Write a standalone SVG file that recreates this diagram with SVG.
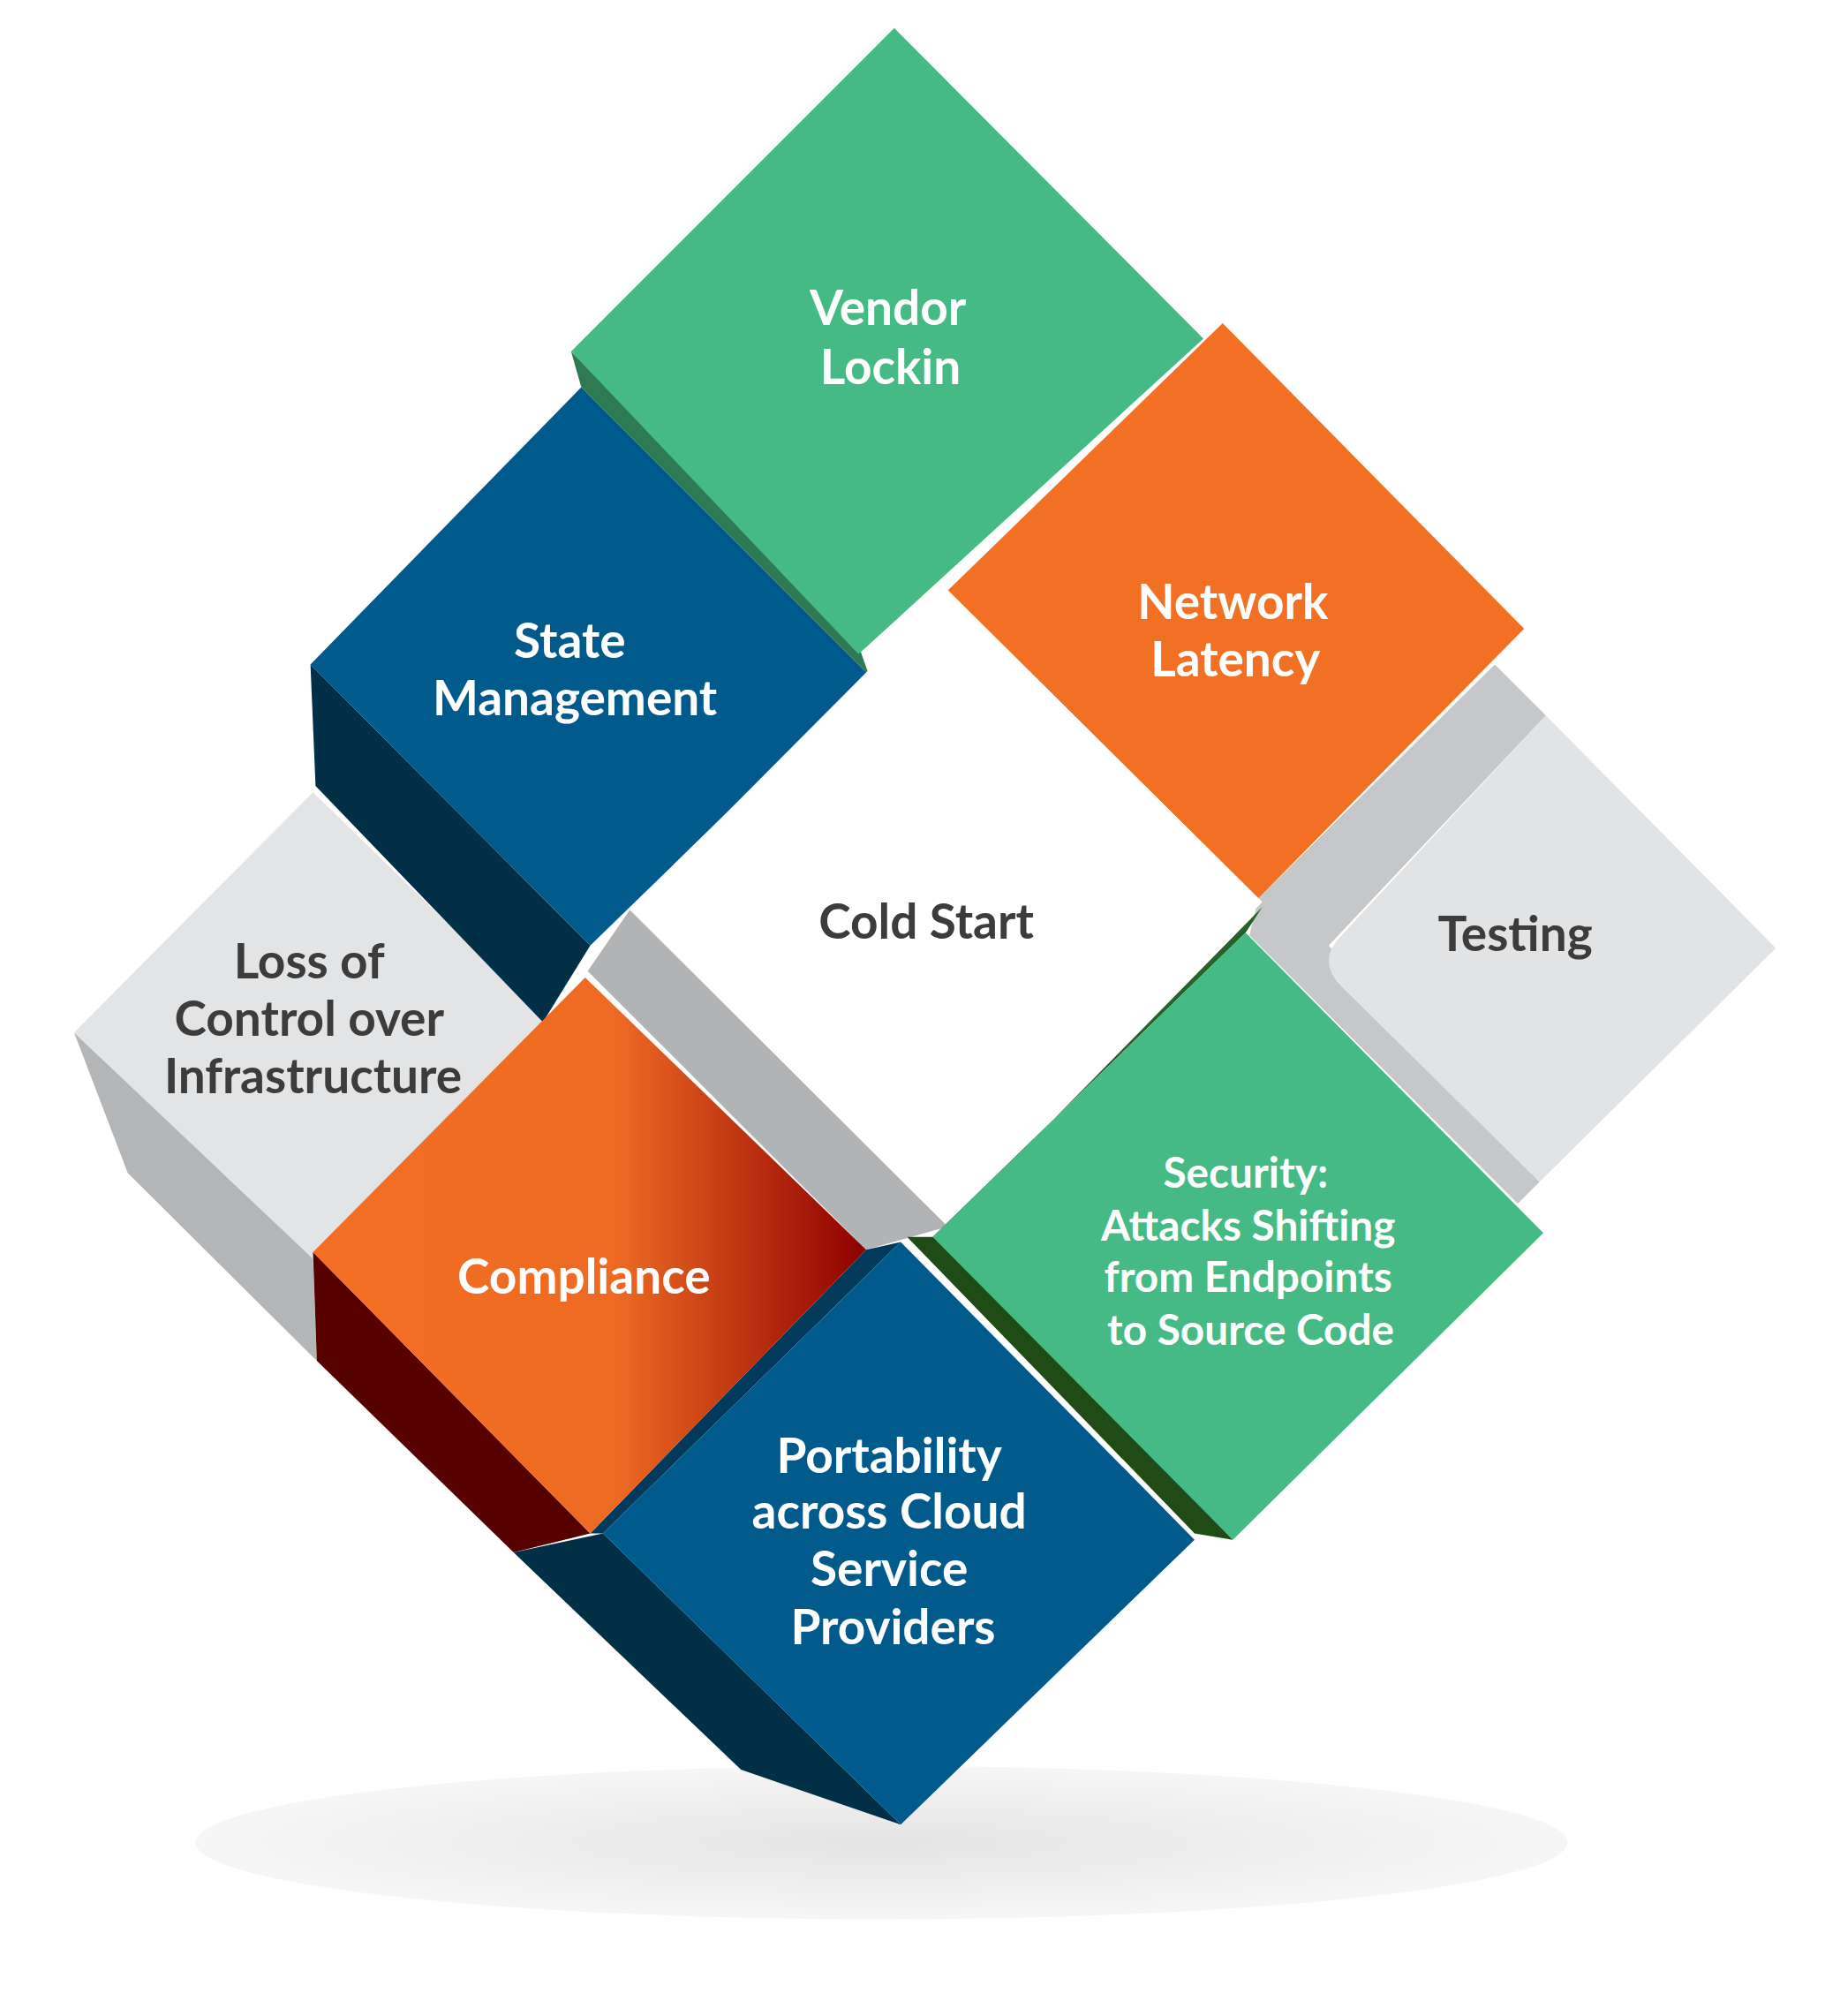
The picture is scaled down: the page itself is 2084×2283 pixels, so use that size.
<svg xmlns="http://www.w3.org/2000/svg" width="2084" height="2283" viewBox="0 0 2084 2283">
<defs>
<radialGradient id="sh" cx="0.5" cy="0.5" r="0.5"><stop offset="0" stop-color="#e4e4e4"/><stop offset="1" stop-color="#f6f6f6"/></radialGradient>
<linearGradient id="cr" x1="0" y1="0" x2="1" y2="0"><stop offset="0" stop-color="#f26f24"/><stop offset="0.55" stop-color="#ee6a22"/><stop offset="1" stop-color="#8e0000"/></linearGradient>
<linearGradient id="sg" x1="0" y1="0" x2="1" y2="1"><stop offset="0" stop-color="#1f4b16"/><stop offset="1" stop-color="#2e7a3a"/></linearGradient>
<style>
text{font-family:Lato,"Open Sans","Liberation Sans",sans-serif;font-weight:bold;font-size:38px;text-anchor:middle;dominant-baseline:central}
.w{fill:#fff}.d{fill:#3c3c3c}.s{font-size:33px}
</style>
</defs>
<rect width="2084" height="2283" fill="#fff"/>
<g transform="scale(1.447)">
<ellipse cx="690" cy="1442" rx="537" ry="60" fill="url(#sh)"/>
<g id="testing"><polygon points="985,703 1170,520 1210,560 1040,740 1205,925 1188,942 978,732" fill="#c6c7c9"/>
<path d="M1210,560 L1390,742 L1205,925 L1050,772 Q1030,752 1050,732 Z" fill="#e2e3e5"/><text class="d" x="1186" y="730">Testing</text></g>
<g id="loss"><polygon points="58,808 100,918 248,1065 245,985" fill="#b4b5b7"/><polygon points="245,620 430,800 245,985 58,808" fill="#e3e4e6"/>
<text class="d" x="242" y="751">Loss of</text><text class="d" x="242" y="796">Control over</text><text class="d" x="245" y="841">Infrastructure</text></g>
<g id="state"><polygon points="243,520 247,615 425,800 462,740" fill="#012f46"/><polygon points="455,303 680,528 462,740 243,520" fill="#015a8c"/>
<text class="w" x="446" y="500">State</text><text class="w" x="450" y="545">Management</text></g>
<g id="vendor"><polygon points="447,275 455,303 680,528 672,505" fill="#2e7a52"/><polygon points="700,22 942,265 672,512 447,275" fill="#45ba84"/>
<text class="w" x="695" y="240">Vendor</text><text class="w" x="697" y="286">Lockin</text></g>
<g id="network"><polygon points="957,253 1193,492 985,703 742,462" fill="#f27024"/>
<text class="w" x="965" y="470">Network</text><text class="w" x="967" y="515">Latency</text></g>
<g id="coldshadow"><polygon points="493,712 742,960 678,978 460,760" fill="#b2b3b5"/></g>
<g id="cold"><polygon points="742,462 988,706 742,960 493,712" fill="#fff"/><text class="d" x="725" y="720">Cold Start</text></g>
<g id="portability"><polygon points="462,1200 678,978 705,972 472,1200" fill="#013a5a"/><polygon points="402,1215 580,1385 705,1428 472,1200" fill="#012f46"/><polygon points="705,972 935,1205 705,1428 472,1200" fill="#015a8c"/>
<text class="w" x="696" y="1138">Portability</text><text class="w" x="696" y="1182">across Cloud</text><text class="w" x="696" y="1227">Service</text><text class="w" x="699" y="1272">Providers</text></g>
<g id="compliance"><polygon points="245,980 248,1065 402,1215 462,1200" fill="#570000"/><polygon points="458,765 678,978 462,1200 245,980" fill="url(#cr)"/>
<text class="w" x="457" y="998">Compliance</text></g>
<g id="security"><polygon points="742,960 988,710 975,730 730,968" fill="url(#sg)"/><polygon points="710,968 935,1200 965,1205 740,968" fill="#1f4b16"/><polygon points="975,730 1208,965 965,1205 730,968" fill="#45ba84"/>
<text class="w s" x="975" y="917">Security:</text><text class="w s" x="977" y="958">Attacks Shifting</text><text class="w s" x="977" y="998">from Endpoints</text><text class="w s" x="979" y="1040">to Source Code</text></g>
<g id="connectors"/>
</g>
</svg>
